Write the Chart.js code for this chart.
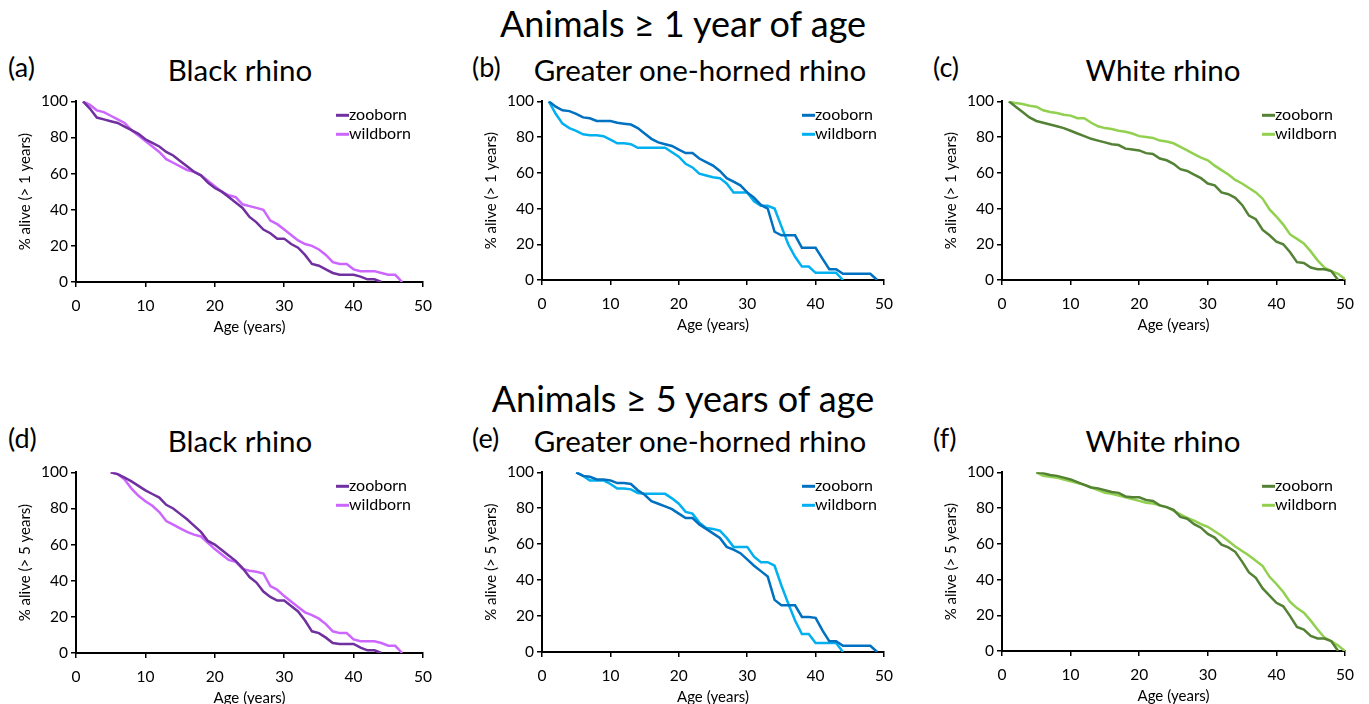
<!DOCTYPE html>
<html>
<head>
<meta charset="utf-8">
<script src="https://cdn.jsdelivr.net/npm/chart.js@4"></script>
<style>
  body { margin: 0; background: #fff; font-family: Lato, sans-serif; }
  #page { position: relative; width: 1369px; height: 704px; overflow: hidden; }
  .t { position: absolute; color: #000; white-space: nowrap; line-height: 1; transform: translate(-50%, -50%); }
  .lbl { position: absolute; color: #000; white-space: nowrap; line-height: 1; transform: translate(0, -50%); font-size: 27px; }
  canvas { position: absolute; }
</style>
</head>
<body>
<div id="page"></div>
<script>
// ages (x values)
const ages1 = [1,2,3,4,5,6,7,8,9,10,11,12,13,14,15,16,17,18,19,20,21,22,23,24,25,26,27,28,29,30,31,32,33,34,35,36,37,38,39,40,41,42,43,44,45,46,47,48,49,50];
const ages5 = [5,6,7,8,9,10,11,12,13,14,15,16,17,18,19,20,21,22,23,24,25,26,27,28,29,30,31,32,33,34,35,36,37,38,39,40,41,42,43,44,45,46,47,48,49,50];

// % alive, animals >= 1 year (start at age 1)
const blackZoo1 = [100,96,91,90,89,88,86,84,82,79, 77,75,72,70,67,64,61,59,55,52, 50,47,44,41,36,33,29,27,24,24, 21,19,15,10,9,7,5,4,4,4, 3,1.5,1.5,0];
const blackWild1 = [100,98,95,94,92,90,88,84,81,78, 75,72,68,66,64,62,61,59,56,53, 50,48,47,43,42,41,40,34,32,29, 26,23,21,20,18,15,11,10,10,7, 6,6,6,5,4,4,0];
const gohZoo1 = [100,97,95,94.5,93,91,90.5,89,89,89, 88,87.5,87,85,82,79,77,76,75,73, 71,71,68,66,64,61,57,55,53,49, 46,42,40,27,25,25,25,18,18,18, 12,6,6,3.5,3.5,3.5,3.5,3.5,0];
const gohWild1 = [100,93,87.5,85,83.5,81.5,81,81,80.5,78.5, 76.5,76.5,76,74,74,74,74,74,71.5,69, 65,63,59.5,58.5,57.5,57,54,49,49,49, 44,41.5,41.5,40,30,20,13,7.5,7.5,4, 4,4,4,0];
const whiteZoo1 = [100,97,94,91,89,88,87,86,85,83.5, 82,80.5,79,78,77,76,75.5,73.5,73,72.5, 71,70.5,68,67,65,62,61,59,57,54, 53,49,48,46,42,36,34,28,25,21.5, 20,15.5,10,9.5,7,6,6,5,0];
const whiteWild1 = [100,99,98.5,97.5,97,95,94,93.5,92.5,92, 90.5,90.5,88,86,85,84.5,83.5,83,82,80.5, 80,79.5,78,77.5,76.5,74.5,72.5,70.5,68.5,67, 64,61.5,59,56,54,51.5,49,45.5,39.5,35.5, 31,25.5,23,20.5,16,11,7,5,3.5,0.5];

// % alive, animals >= 5 years (start at age 5)
const blackZoo5 = [100,99,97,95,92.5,90, 88,86,82,80,77,74,70.5,67,62,60, 57,54,51,47,42,39,34,31,29,29, 26,23,18,12,11,8.5,5.5,5,5,5, 3,1.5,1.5,0];
const blackWild5 = [100,99,96,91,87,84, 81.5,78,73,71,69,67,65.5,64.5,61,57.5, 54.5,51.5,50.5,46.5,45.5,45,44,37,35,31.5, 28.5,25.5,22.5,21,19,16,12,11,11,7.5, 6.5,6.5,6.5,5.5,4,4,0];
const gohZoo5 = [100,98,97.5,96,96,95.5, 94,94,93.5,90,87.5,84,82.5,81,79.5,77, 74.5,74.5,71,68.5,66,63.5,58.5,57,55,51.5, 48,45,42,29,26,26,26,19.5,19.5,19, 12,6,6,3.5,3.5,3.5,3.5,3.5,0];
const gohWild5 = [100,98,95.5,95.5,95.5,93.5, 91,91,90.5,88.5,88,88,88,88,85.5,82.5, 78,77,72,69,68.5,67.5,63.5,58.5,58.5,58.5, 53,50,50,48,37,27,17.5,10,10,5, 5,5,5,0];
const whiteZoo5 = [100,99.5,98.5,98,97,96, 94.5,93,91.5,91,90,89,88.5,86.5,86,86, 84.5,84,81.5,80.5,79,75,74,71,69,65.5, 63.5,59.5,58,55.5,50,44,41,35,31,27, 25,19.5,13.5,12,8.5,7,7,5.5,0];
const whiteWild5 = [100,98,97.5,97,96,95, 94,93,91.5,90,88.5,88,87,86,85,84, 83,82.5,81.5,80.5,78.5,76.5,74.5,73,71,69.5, 67,64.5,61.5,58.5,56,53.5,50.5,47.5,41.5,37.5, 33,27.5,24,21.5,17,12,7.5,5.5,3,0];

const seriesNames = ['zooborn', 'wildborn'];
const xTicks = [0, 10, 20, 30, 40, 50];
const yTicks = [0, 20, 40, 60, 80, 100];

const purple = ['#7030A0', '#CC66FF'];
const blue = ['#0070C0', '#00B0F0'];
const green = ['#548235', '#92D050'];

// plot boxes [left, top, right, bottom] in page pixels
const panels = [
  { tag: '(a)', title: 'Black rhino', ages: ages1, zoo: blackZoo1, wild: blackWild1, colors: purple, yTitle: '% alive (> 1 years)', box: [76, 101, 423, 282] },
  { tag: '(b)', title: 'Greater one-horned rhino', ages: ages1, zoo: gohZoo1, wild: gohWild1, colors: blue, yTitle: '% alive (> 1 years)', box: [542, 101, 884, 280] },
  { tag: '(c)', title: 'White rhino', ages: ages1, zoo: whiteZoo1, wild: whiteWild1, colors: green, yTitle: '% alive (> 1 years)', box: [1002, 101, 1345, 280] },
  { tag: '(d)', title: 'Black rhino', ages: ages5, zoo: blackZoo5, wild: blackWild5, colors: purple, yTitle: '% alive (> 5 years)', box: [76, 472, 423, 653] },
  { tag: '(e)', title: 'Greater one-horned rhino', ages: ages5, zoo: gohZoo5, wild: gohWild5, colors: blue, yTitle: '% alive (> 5 years)', box: [542, 472, 884, 652] },
  { tag: '(f)', title: 'White rhino', ages: ages5, zoo: whiteZoo5, wild: whiteWild5, colors: green, yTitle: '% alive (> 5 years)', box: [1002, 472, 1345, 651] }
];
const titleX = [240, 700, 1163];
const tagX = [8, 472, 933];

const page = document.getElementById('page');

function addText(cls, text, x, y, size) {
  const d = document.createElement('div');
  d.className = cls;
  d.textContent = text;
  d.style.left = x + 'px';
  d.style.top = y + 'px';
  if (size) d.style.fontSize = size + 'px';
  page.appendChild(d);
}

addText('t', 'Animals \u2265 1 year of age', 683, 23, 36);
addText('t', 'Animals \u2265 5 years of age', 683, 398, 36);

Chart.defaults.color = '#000';
Chart.defaults.font.family = 'Lato, sans-serif';

const legendPlugin = {
  id: 'sideLegend',
  afterDraw(chart) {
    const { ctx, chartArea } = chart;
    ctx.save();
    ctx.font = '16px Lato, sans-serif';
    ctx.textBaseline = 'middle';
    chart.data.datasets.forEach((ds, i) => {
      const x = chartArea.left + 260;
      const y = chartArea.top + 14 + i * 19;
      ctx.strokeStyle = ds.borderColor;
      ctx.lineWidth = 3;
      ctx.beginPath();
      ctx.moveTo(x, y);
      ctx.lineTo(x + 13, y);
      ctx.stroke();
      ctx.fillStyle = '#000';
      ctx.fillText(ds.label, x + 13, y);
    });
    ctx.restore();
  }
};

const PAD_TOP = 12, PAD_RIGHT = 20, Y_W = 76, X_H = 54;

panels.forEach((p, k) => {
  const [L, T, R, B] = p.box;
  const col = k % 3;
  const midY = T - 31;
  addText('t', p.title, titleX[col], midY, 29.5);
  addText('lbl', p.tag, tagX[col], midY - 4);

  const cv = document.createElement('canvas');
  const w = (R - L) + Y_W + PAD_RIGHT;
  const h = (B - T) + PAD_TOP + X_H;
  cv.width = w; cv.height = h;
  cv.style.left = (L - Y_W) + 'px';
  cv.style.top = (T - PAD_TOP) + 'px';
  cv.style.width = w + 'px';
  cv.style.height = h + 'px';
  page.appendChild(cv);

  const mk = (vals) => vals.map((v, i) => ({ x: p.ages[i], y: v }));

  new Chart(cv.getContext('2d'), {
    type: 'line',
    data: {
      datasets: [
        { label: seriesNames[0], data: mk(p.zoo), borderColor: p.colors[0], backgroundColor: p.colors[0], borderWidth: 2.5, pointRadius: 0, tension: 0 },
        { label: seriesNames[1], data: mk(p.wild), borderColor: p.colors[1], backgroundColor: p.colors[1], borderWidth: 2.5, pointRadius: 0, tension: 0 }
      ]
    },
    options: {
      responsive: false,
      animation: false,
      layout: { padding: { top: PAD_TOP, right: PAD_RIGHT, left: 0, bottom: 0 } },
      plugins: { legend: { display: false }, tooltip: { enabled: false } },
      scales: {
        x: {
          type: 'linear', min: 0, max: 50,
          afterFit: s => { s.height = X_H; },
          afterBuildTicks: s => { s.ticks = xTicks.map(v => ({ value: v })); },
          ticks: { font: { size: 15.5 }, padding: 10, maxRotation: 0 },
          grid: { drawOnChartArea: false, drawTicks: true, tickLength: 5, color: '#000', lineWidth: 1.5 },
          border: { color: '#000', width: 2 },
          title: { display: true, text: 'Age (years)', font: { size: 15 }, padding: 0 }
        },
        y: {
          min: 0, max: 100,
          afterFit: s => { s.width = Y_W; },
          afterBuildTicks: s => { s.ticks = yTicks.map(v => ({ value: v })); },
          ticks: { font: { size: 15.5 }, padding: 3 },
          grid: { drawOnChartArea: false, drawTicks: true, tickLength: 5, color: '#000', lineWidth: 1.5 },
          border: { color: '#000', width: 2 },
          title: { display: true, text: p.yTitle, font: { size: 15 }, padding: { top: 16, bottom: 0 } }
        }
      }
    },
    plugins: [legendPlugin]
  });
});
</script>
</body>
</html>
